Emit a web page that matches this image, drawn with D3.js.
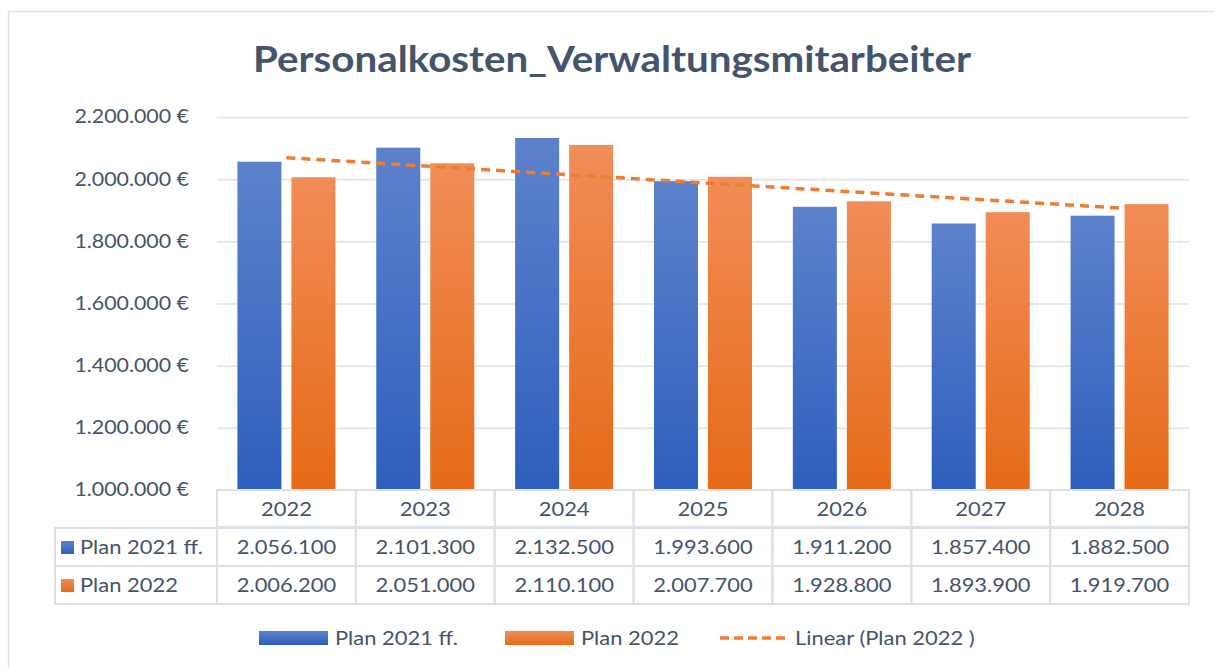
<!DOCTYPE html>
<html>
<head>
<meta charset="utf-8" />
<title>Personalkosten</title>
<script src="https://cdn.jsdelivr.net/npm/d3@7"></script>
<style>
  body { margin: 0; background: #fff; }
  #chart { width: 1214px; height: 668px; }
  text { font-family: Lato, "Noto Sans", sans-serif; fill: #44546a; }
  .grid line { stroke: #dfe2e7; stroke-width: 1.5px; }
  .grid path { display: none; }
  .cell { fill: none; stroke: #dde1e7; stroke-width: 2px; }
</style>
</head>
<body>
<div id="chart"></div>
<script>
var years = ["2022", "2023", "2024", "2025", "2026", "2027", "2028"];
var plan2021 = [2056100, 2101300, 2132500, 1993600, 1911200, 1857400, 1882500];
var plan2022 = [2006200, 2051000, 2110100, 2007700, 1928800, 1893900, 1919700];
var seriesNames = ["Plan 2021 ff.", "Plan 2022"];
var yTicks = [1000000, 1200000, 1400000, 1600000, 1800000, 2000000, 2200000];
var trendName = "Linear (Plan 2022 )";

var width = 1214, height = 668;
var margin = {top: 117, left: 217, right: 25, bottom: 178};
var plotBottom = height - margin.bottom;
var SX = 1.155; // the original text is a bit wider than Lato

var svg = d3.select("#chart").append("svg")
    .attr("width", width)
    .attr("height", height);

// place a text at x,y, stretched sideways
function put(t, x, y, sx) {
  return t.attr("transform", "translate(" + x + "," + y + ") scale(" + (sx || SX) + ",1)");
}

// gradients like the office chart
var defs = svg.append("defs");
var grads = [
  {id: "gBlue", top: "#5d82cc", bottom: "#2e5fbd"},
  {id: "gOrange", top: "#f18d57", bottom: "#e66a17"}
];
grads.forEach(function(g) {
  var lg = defs.append("linearGradient").attr("id", g.id)
      .attr("x1", 0).attr("y1", 0).attr("x2", 0).attr("y2", 1);
  lg.append("stop").attr("offset", "0%").attr("stop-color", g.top);
  lg.append("stop").attr("offset", "100%").attr("stop-color", g.bottom);
});
var fills = ["url(#gBlue)", "url(#gOrange)"];

// frame
svg.append("line").attr("x1", 8).attr("x2", width).attr("y1", 11.5).attr("y2", 11.5)
    .attr("stroke", "#dfe2e7").attr("stroke-width", 1.5);
svg.append("line").attr("x1", 8.5).attr("x2", 8.5).attr("y1", 11).attr("y2", height)
    .attr("stroke", "#dfe2e7").attr("stroke-width", 1.5);

put(svg.append("text"), 612, 72, 1.12)
    .attr("text-anchor", "middle")
    .style("font-size", "36px").style("font-weight", "bold")
    .text("Personalkosten_Verwaltungsmitarbeiter");

var x0 = d3.scaleBand().domain(years).range([margin.left, width - margin.right]);
var bw = x0.bandwidth();
var x1 = d3.scaleBand().domain(seriesNames).range([bw * 0.147, bw * 0.853]).paddingInner(0.185);
var y = d3.scaleLinear().domain([1000000, 2200000]).range([plotBottom, margin.top]);

var fmt = d3.formatLocale({decimal: ",", thousands: ".", grouping: [3], currency: ["", " €"]});
var fmtNum = fmt.format(",.0f");

svg.append("g")
    .attr("class", "grid")
    .attr("transform", "translate(" + margin.left + ",0)")
    .call(d3.axisLeft(y).tickValues(yTicks).tickSize(-(width - margin.right - margin.left)).tickFormat(""))
    .selectAll("line").filter(function(d) { return d === 1000000; }).remove();

svg.append("g").selectAll("text")
    .data(yTicks)
  .enter().append("text")
    .attr("transform", function(d) { return "translate(189," + y(d) + ") scale(" + SX + ",1)"; })
    .attr("dy", "0.35em")
    .attr("text-anchor", "end")
    .style("font-size", "18.5px")
    .text(function(d) { return fmtNum(d) + " €"; });

var series = [plan2021, plan2022];
var groups = svg.append("g").selectAll("g")
    .data(years)
  .enter().append("g")
    .attr("transform", function(d) { return "translate(" + x0(d) + ",0)"; });

groups.selectAll("rect")
    .data(function(d, i) { return series.map(function(s, k) { return {name: seriesNames[k], value: s[i], k: k}; }); })
  .enter().append("rect")
    .attr("x", function(d) { return x1(d.name); })
    .attr("width", x1.bandwidth())
    .attr("y", function(d) { return y(d.value); })
    .attr("height", function(d) { return plotBottom - y(d.value); })
    .attr("fill", function(d) { return fills[d.k]; });

// linear trend of Plan 2022
var n = plan2022.length;
var mx = (n + 1) / 2, my = d3.mean(plan2022);
var sxy = d3.sum(plan2022, function(v, i) { return (i + 1 - mx) * (v - my); });
var sxx = d3.sum(plan2022, function(v, i) { return (i + 1 - mx) * (i + 1 - mx); });
var slope = sxy / sxx;
var trend = years.map(function(yr, i) { return {year: yr, value: my + slope * (i + 1 - mx)}; });

svg.append("path")
    .datum([trend[0], trend[n - 1]])
    .attr("fill", "none")
    .attr("stroke", "#ed7d31")
    .attr("stroke-width", 3.5)
    .attr("stroke-dasharray", "9,6")
    .attr("d", d3.line()
        .x(function(d) { return x0(d.year) + bw / 2; })
        .y(function(d) { return y(d.value); }));

// data table
var rowH = 38;
var tbl = svg.append("g");
years.forEach(function(yr) {
  tbl.append("rect").attr("class", "cell")
      .attr("x", x0(yr)).attr("y", plotBottom).attr("width", bw).attr("height", rowH - 1);
  put(tbl.append("text"), x0(yr) + bw / 2, plotBottom + rowH / 2).attr("dy", "0.35em")
      .attr("text-anchor", "middle").style("font-size", "19px").text(yr);
});
series.forEach(function(s, k) {
  var ry = plotBottom + rowH * (k + 1);
  tbl.append("rect").attr("class", "cell")
      .attr("x", 55).attr("y", ry).attr("width", margin.left - 55).attr("height", rowH);
  tbl.append("rect")
      .attr("x", 61).attr("y", ry + 13).attr("width", 13).attr("height", 13)
      .attr("fill", fills[k]);
  put(tbl.append("text"), 80, ry + rowH / 2).attr("dy", "0.35em")
      .style("font-size", "19px").text(seriesNames[k]);
  years.forEach(function(yr, i) {
    tbl.append("rect").attr("class", "cell")
        .attr("x", x0(yr)).attr("y", ry).attr("width", bw).attr("height", rowH);
    put(tbl.append("text"), x0(yr) + bw / 2, ry + rowH / 2).attr("dy", "0.35em")
        .attr("text-anchor", "middle").style("font-size", "19px").text(fmtNum(s[i]));
  });
});

// legend
var legY = 638;
var leg = svg.append("g");
var legX = [259, 505];
seriesNames.forEach(function(name, k) {
  leg.append("rect").attr("x", legX[k]).attr("y", legY - 7).attr("width", 69).attr("height", 14)
      .attr("fill", fills[k]);
  put(leg.append("text"), legX[k] + 76, legY).attr("dy", "0.35em")
      .style("font-size", "19px").text(name);
});
leg.append("line").attr("x1", 720).attr("x2", 788).attr("y1", legY).attr("y2", legY)
    .attr("stroke", "#ed7d31").attr("stroke-width", 3.5).attr("stroke-dasharray", "9,5");
put(leg.append("text"), 795, legY).attr("dy", "0.35em")
    .style("font-size", "19px").text(trendName);
</script>
</body>
</html>
